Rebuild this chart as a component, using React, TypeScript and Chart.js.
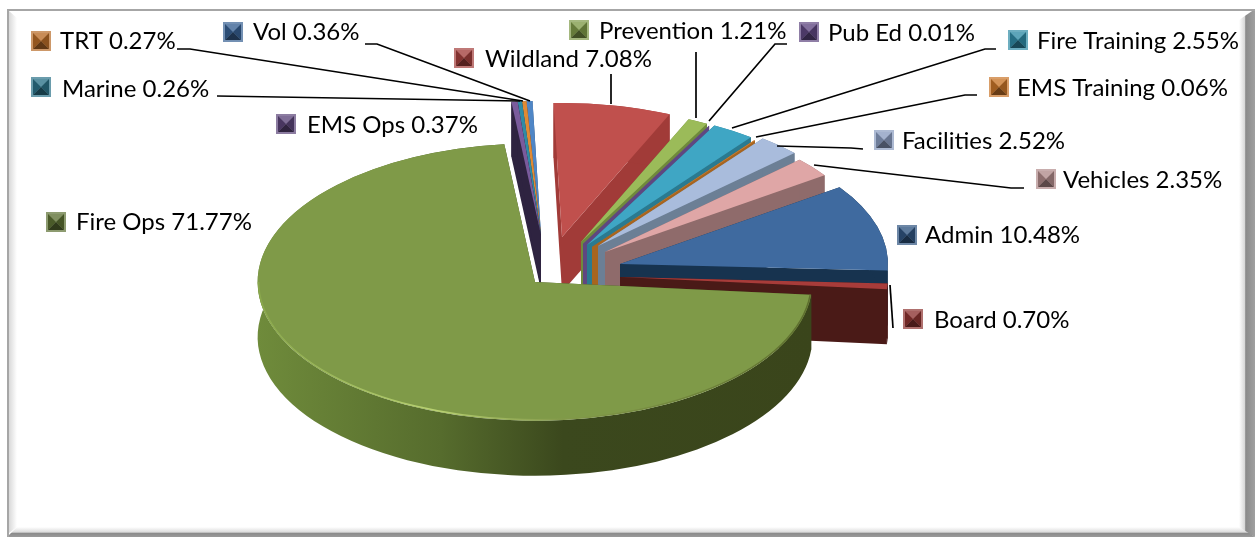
import { useEffect, useRef } from "react";
import { Chart, registerables } from "chart.js";
import type { Plugin } from "chart.js";

Chart.register(...registerables);

// Budget share per division, in the order the pie walks clockwise.
const divisions = ["Admin", "Board", "Fire Ops", "EMS Ops", "Marine", "TRT", "Vol", "Wildland", "Prevention", "Pub Ed", "Fire Training", "EMS Training", "Facilities", "Vehicles"];
const shares = [10.48, 0.7, 71.77, 0.37, 0.26, 0.27, 0.36, 7.08, 1.21, 0.01, 2.55, 0.06, 2.52, 2.35];

const topColors = ["#3f6a9f", "#a83c3a", "#7f9a48", "#7a5b9c", "#2f8ba5", "#e08a34", "#4f86c6", "#c0504d", "#9bbb59", "#7b5fa0", "#3fa6c4", "#d07f30", "#a9bcdc", "#dfa6a6"];
const wallColors = ["#17334f", "#4a1a17", "#3c471d", "#2e2340", "#1f5565", "#8a5020", "#2c4a70", "#a13b38", "#6f8a3c", "#5f4780", "#2a7a90", "#a8651f", "#6c7f95", "#8f6b6b"];
const keyColors = ["#2f5480", "#8c3230", "#5c7033", "#5b4478", "#2a7288", "#b86c28", "#376092", "#a33f3c", "#7f9a48", "#5f4780", "#2f8ba5", "#c87428", "#8a9cc0", "#b08a8a"];

// Exploded placement of each wedge relative to the pie centre: [dx, dy, radius factor].
const explode: [number, number, number][] = [
  [85, -18, 1], [85, -5, 1], [0, 0, 1.035], [6, -47, 1], [6, -47, 1], [6, -47, 1], [6, -47, 1],
  [27, -45, 1], [46, -40, 1], [48, -38, 1], [52, -37, 1.01], [57, -35, 1], [63, -36, 1.01], [70, -30, 1],
];

// Back-to-front painting order, as indexes into the arrays above.
const paintOrder = [6, 5, 4, 3, 7, 8, 9, 10, 11, 12, 13, 0, 1, 2];

const TILT = 0.5;
const DEPTH = 55;

// Callout placement per division: key square corner, text start, text centre line.
const callouts: [number, number, number, number][] = [
  [897, 225, 925, 235], [903, 309, 934, 320], [46, 212, 76, 222], [276, 114, 307, 125], [31, 77, 62, 89], [31, 31, 60, 41],
  [223, 22, 253, 32], [454, 48, 485, 59], [569, 20, 599, 31], [799, 22, 828, 33], [1008, 30, 1037, 41], [989, 77, 1017, 88],
  [874, 130, 902, 141], [1036, 169, 1063, 180],
];

const leaders: number[][] = [
  [890, 285, 893, 328],
  [177, 49, 190, 49, 523, 101],
  [365, 44, 377, 44, 530, 101],
  [217, 96, 520, 101],
  [611, 74, 611, 104],
  [696, 52, 696, 118],
  [787, 44, 775, 44, 709, 121],
  [996, 49, 985, 49, 732, 128],
  [977, 95, 965, 95, 756, 137],
  [863, 149, 851, 148, 777, 146],
  [1024, 188, 1011, 188, 814, 165],
];

function shade(hex: string, f: number): string {
  const n = parseInt(hex.slice(1), 16);
  const ch = (v: number) => Math.max(0, Math.min(255, Math.round(f >= 1 ? v + (255 - v) * (f - 1) : v * f)));
  return `rgb(${ch((n >> 16) & 255)},${ch((n >> 8) & 255)},${ch(n & 255)})`;
}

function drawKey(ctx: CanvasRenderingContext2D, x: number, y: number, color: string) {
  const s = 20;
  const m = 2;
  ctx.fillStyle = shade(color, 1.3);
  ctx.fillRect(x, y, s, s);
  const l = x + m, t = y + m, r = x + s - m, b = y + s - m, cx = x + s / 2, cy = y + s / 2;
  const tri = (ax: number, ay: number, bx: number, by: number, fill: string) => {
    ctx.beginPath();
    ctx.moveTo(ax, ay);
    ctx.lineTo(bx, by);
    ctx.lineTo(cx, cy);
    ctx.closePath();
    ctx.fillStyle = fill;
    ctx.fill();
  };
  tri(l, t, r, t, shade(color, 1.22));
  tri(l, t, l, b, shade(color, 0.8));
  tri(r, t, r, b, shade(color, 0.75));
  tri(l, b, r, b, shade(color, 0.52));
}

const framePlugin: Plugin<"pie"> = {
  id: "frame",
  beforeDraw(chart) {
    const { ctx, width: w, height: h } = chart;
    ctx.save();
    ctx.fillStyle = "#ffffff";
    ctx.fillRect(0, 0, w, h);

    const left = ctx.createLinearGradient(9, 0, 17, 0);
    left.addColorStop(0, "#d9d9d9");
    left.addColorStop(1, "#ffffff");
    ctx.fillStyle = left;
    ctx.beginPath();
    ctx.moveTo(9, 11);
    ctx.lineTo(17, 18);
    ctx.lineTo(17, h - 10);
    ctx.lineTo(9, h - 4);
    ctx.closePath();
    ctx.fill();

    const right = ctx.createLinearGradient(w - 16, 0, w, 0);
    right.addColorStop(0, "#ffffff");
    right.addColorStop(0.35, "#d8d8d8");
    right.addColorStop(0.42, "#8a8a8a");
    right.addColorStop(1, "#a0a0a0");
    ctx.fillStyle = right;
    ctx.beginPath();
    ctx.moveTo(w, 9);
    ctx.lineTo(w - 16, 20);
    ctx.lineTo(w - 16, h - 8);
    ctx.lineTo(w, h);
    ctx.closePath();
    ctx.fill();

    const bottom = ctx.createLinearGradient(0, h - 10, 0, h);
    bottom.addColorStop(0, "#ffffff");
    bottom.addColorStop(0.5, "#dcdcdc");
    bottom.addColorStop(0.65, "#8c8c8c");
    bottom.addColorStop(1, "#9a9a9a");
    ctx.fillStyle = bottom;
    ctx.beginPath();
    ctx.moveTo(7, h);
    ctx.lineTo(17, h - 10);
    ctx.lineTo(w - 16, h - 10);
    ctx.lineTo(w, h);
    ctx.closePath();
    ctx.fill();

    ctx.fillStyle = "#a6a6a6";
    ctx.fillRect(7, 9, w - 7, 2);
    ctx.fillRect(7, 9, 2, h - 9);
    ctx.restore();
  },
};

const pie3dPlugin: Plugin<"pie"> = {
  id: "pie3d",
  beforeDatasetsDraw(chart) {
    const { ctx } = chart;
    const arcs = chart.getDatasetMeta(0).data as any[];
    for (const i of paintOrder) {
      const arc = arcs[i];
      const [dx, dy, s] = explode[i];
      const { x, y, startAngle: a, endAngle: b, outerRadius } = arc.getProps(["x", "y", "startAngle", "endAngle", "outerRadius"], true);
      const cx = x + dx;
      const cy = y + dy;
      const rx = outerRadius * s;
      const ry = rx * TILT;
      ctx.save();

      // Radial cut faces, dropped straight down by the pie's thickness.
      ctx.fillStyle = wallColors[i];
      for (const t of [a, b]) {
        const ex = cx + rx * Math.cos(t);
        const ey = cy + ry * Math.sin(t);
        ctx.beginPath();
        ctx.moveTo(cx, cy);
        ctx.lineTo(ex, ey);
        ctx.lineTo(ex, ey + DEPTH);
        ctx.lineTo(cx, cy + DEPTH);
        ctx.closePath();
        ctx.fill();
      }

      // Outer rim; the big slice gets a left-to-right light falloff.
      let rimFill: string | CanvasGradient = wallColors[i];
      if (divisions[i] === "Fire Ops") {
        const g = ctx.createLinearGradient(cx - rx, 0, cx + rx, 0);
        g.addColorStop(0, "#6f8b3b");
        g.addColorStop(0.33, "#566c2d");
        g.addColorStop(0.55, "#3b481d");
        g.addColorStop(1, "#3a451b");
        rimFill = g;
      }
      ctx.fillStyle = rimFill;
      ctx.beginPath();
      ctx.ellipse(cx, cy, rx, ry, 0, a, b);
      ctx.ellipse(cx, cy + DEPTH, rx, ry, 0, b, a, true);
      ctx.closePath();
      ctx.fill();

      // Top surface is the library's own arc element under a flattening transform.
      ctx.save();
      ctx.translate(cx, cy);
      ctx.scale(s, s * TILT);
      ctx.translate(-x, -y);
      arc.draw(ctx);
      ctx.restore();

      if (divisions[i] === "Fire Ops") {
        const g = ctx.createLinearGradient(cx - rx, 0, cx + rx, 0);
        g.addColorStop(0, "#8aa84c");
        g.addColorStop(0.32, "#b9d272");
        g.addColorStop(0.55, "#83994a");
        g.addColorStop(1, "#5d6e2e");
        ctx.strokeStyle = g;
        ctx.lineWidth = 1.5;
        ctx.beginPath();
        ctx.ellipse(cx, cy, rx - 1, ry - 1, 0, Math.max(a, 0), Math.PI);
        ctx.stroke();
      }
      ctx.restore();
    }
    return false;
  },
  afterDraw(chart) {
    const { ctx } = chart;
    ctx.save();
    ctx.strokeStyle = "#000000";
    ctx.lineWidth = 1.7;
    for (const line of leaders) {
      ctx.beginPath();
      ctx.moveTo(line[0], line[1]);
      for (let k = 2; k < line.length; k += 2) ctx.lineTo(line[k], line[k + 1]);
      ctx.stroke();
    }
    ctx.font = "24px Lato";
    ctx.textBaseline = "middle";
    divisions.forEach((name, i) => {
      const [kx, ky, tx, ty] = callouts[i];
      drawKey(ctx, kx, ky, keyColors[i]);
      ctx.fillStyle = "#000000";
      ctx.fillText(`${name} ${shares[i].toFixed(2)}%`, tx, ty);
    });
    ctx.restore();
  },
};

export default function App() {
  const ref = useRef<HTMLCanvasElement>(null);
  useEffect(() => {
    const chart = new Chart(ref.current!, {
      type: "pie",
      data: {
        labels: divisions,
        datasets: [{ data: shares, backgroundColor: topColors, borderWidth: 0 }],
      },
      options: {
        responsive: false,
        animation: false,
        radius: 268,
        rotation: 55,
        layout: { padding: { left: 0, right: 185, top: 27, bottom: 0 } },
        plugins: { legend: { display: false }, tooltip: { enabled: false } },
      },
      plugins: [framePlugin, pie3dPlugin],
    });
    return () => chart.destroy();
  }, []);
  return (
    <div style={{ position: "fixed", left: 0, top: 0 }}>
      <canvas ref={ref} width={1255} height={537} style={{ display: "block" }} />
    </div>
  );
}
